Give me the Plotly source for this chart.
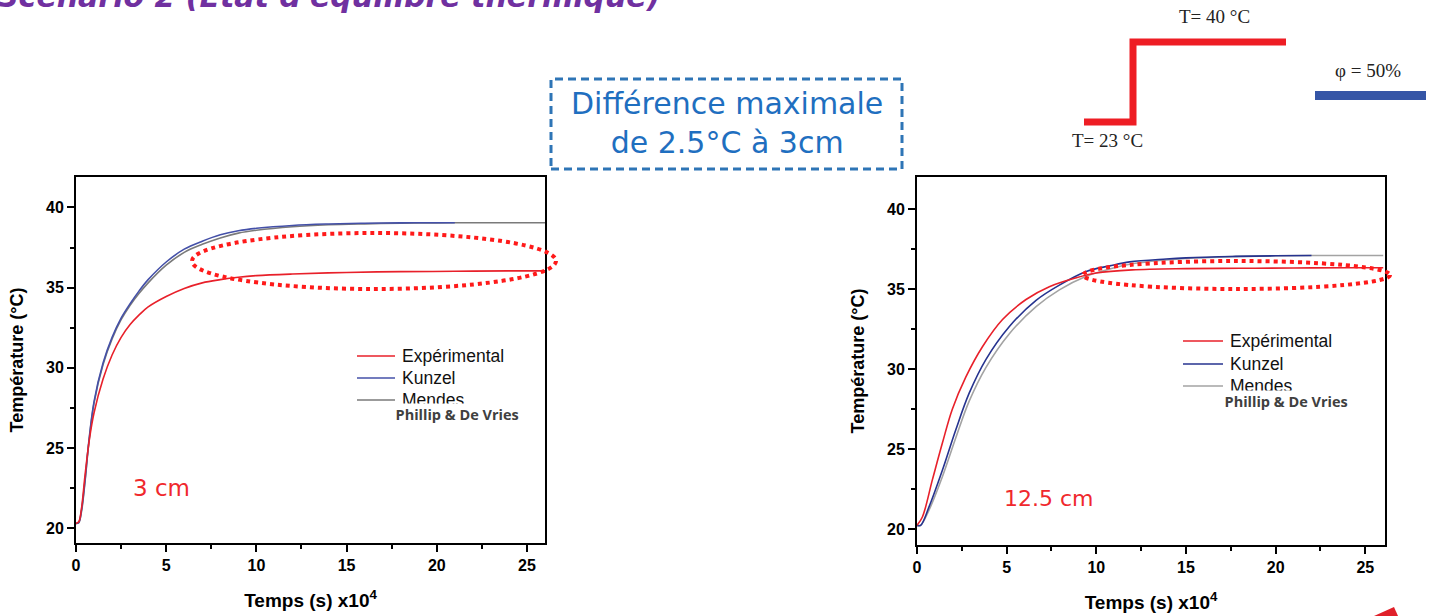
import plotly.graph_objects as go

W, H = 1434, 616

# ---------------- data ----------------
# 3 cm
t_exp_3 = [0, 0.15, 0.3, 0.5, 0.75, 1.0, 1.5, 2.0, 2.5, 3.0, 3.5, 4.0, 5.0, 6.0, 7.0, 8.0, 9.0, 10, 12, 15, 18, 21, 24, 26]
T_exp_3 = [20.3, 20.4, 21.2, 23.3, 25.6, 27.2, 29.3, 30.8, 31.9, 32.7, 33.3, 33.8, 34.45, 34.95, 35.3, 35.5, 35.65, 35.75, 35.85, 35.95, 36.0, 36.02, 36.05, 36.05]
t_kun_3 = [0, 0.15, 0.3, 0.5, 0.7, 1.0, 1.5, 2.0, 2.5, 3.0, 3.5, 4.0, 5.0, 6.0, 7.0, 8.0, 9.0, 10, 12, 14, 16, 18, 20, 21]
T_kun_3 = [20.3, 20.35, 21.1, 23.0, 25.3, 27.9, 30.3, 31.9, 33.1, 34.0, 34.8, 35.5, 36.6, 37.4, 37.9, 38.3, 38.55, 38.7, 38.88, 38.97, 39.02, 39.04, 39.05, 39.05]
t_men_3 = [0, 0.15, 0.3, 0.5, 0.7, 1.0, 1.5, 2.0, 2.5, 3.0, 3.5, 4.0, 5.0, 6.0, 7.0, 8.0, 9.0, 10, 12, 14, 16, 18, 20, 22, 24, 26]
T_men_3 = [20.3, 20.35, 21.0, 22.9, 25.2, 27.8, 30.2, 31.8, 33.0, 33.9, 34.65, 35.3, 36.4, 37.2, 37.7, 38.1, 38.4, 38.58, 38.8, 38.92, 38.98, 39.02, 39.04, 39.05, 39.05, 39.05]

# 12.5 cm
t_exp_12 = [0, 0.3, 0.86, 1.42, 1.97, 2.72, 3.65, 4.77, 6.08, 7.38, 8.87, 10, 12, 15, 18, 21, 24, 26]
T_exp_12 = [20.25, 20.77, 23.1, 25.4, 27.5, 29.5, 31.4, 33.1, 34.35, 35.15, 35.7, 36.0, 36.2, 36.28, 36.3, 36.32, 36.33, 36.33]
t_kun_12 = [0, 0.2, 0.67, 1.42, 2.16, 2.91, 3.84, 5.14, 6.64, 7.94, 9.44, 10.74, 11.86, 13.9, 15, 17.6, 20, 22]
T_kun_12 = [20.25, 20.25, 21.4, 23.7, 26.2, 28.5, 30.6, 32.65, 34.3, 35.25, 36.1, 36.45, 36.7, 36.88, 36.95, 37.04, 37.08, 37.1]
t_men_12 = [0, 0.2, 0.67, 1.42, 2.16, 2.91, 3.84, 5.14, 6.64, 7.94, 9.44, 10.74, 11.86, 13.9, 15, 17.6, 20, 23, 26]
T_men_12 = [20.25, 20.25, 21.2, 23.3, 25.7, 28.0, 30.1, 32.2, 33.9, 34.95, 35.8, 36.25, 36.55, 36.82, 36.92, 37.03, 37.08, 37.1, 37.1]

series_names = ["Expérimental", "Kunzel", "Mendes"]
x_ticks = [0, 5, 10, 15, 20, 25]
y_ticks = [20, 25, 30, 35, 40]
depth_labels = ["3 cm", "12.5 cm"]

RED = "#E8202A"
BLUE_L = "#4450A8"
BLUE_R = "#26338F"
GRAY_L = "#7A7A7A"
GRAY_R = "#A3A3A3"


def px(x):
    return x / W


def py(y):
    return 1 - y / H


fig = go.Figure()

line_w = 1.6
fig.add_trace(go.Scatter(x=t_men_3, y=T_men_3, mode="lines", line=dict(color=GRAY_L, width=line_w, shape="spline"), xaxis="x", yaxis="y", showlegend=False))
fig.add_trace(go.Scatter(x=t_kun_3, y=T_kun_3, mode="lines", line=dict(color=BLUE_L, width=line_w, shape="spline"), xaxis="x", yaxis="y", showlegend=False))
fig.add_trace(go.Scatter(x=t_exp_3, y=T_exp_3, mode="lines", line=dict(color=RED, width=line_w, shape="spline"), xaxis="x", yaxis="y", showlegend=False))

fig.add_trace(go.Scatter(x=t_men_12, y=T_men_12, mode="lines", line=dict(color=GRAY_R, width=line_w, shape="spline"), xaxis="x2", yaxis="y2", showlegend=False))
fig.add_trace(go.Scatter(x=t_kun_12, y=T_kun_12, mode="lines", line=dict(color=BLUE_R, width=line_w, shape="spline"), xaxis="x2", yaxis="y2", showlegend=False))
fig.add_trace(go.Scatter(x=t_exp_12, y=T_exp_12, mode="lines", line=dict(color=RED, width=line_w, shape="spline"), xaxis="x2", yaxis="y2", showlegend=False))

tick_font = dict(family="Liberation Sans, Arial", size=16, color="black", weight="bold")
xtitle_font = dict(family="Liberation Sans, Arial", size=19, color="black", weight="bold")
ytitle_font = dict(family="Liberation Sans, Arial", size=18, color="black", weight="bold")


def xaxis(domain, rng, anchor):
    return dict(domain=domain, range=rng, anchor=anchor, tickmode="array", tickvals=x_ticks,
                ticks="outside", ticklen=7, tickwidth=2, tickcolor="black",
                minor=dict(tick0=0, dtick=2.5, ticks="outside", ticklen=4, tickwidth=2, tickcolor="black"),
                showline=True, linewidth=2, linecolor="black", mirror=True, showgrid=False, zeroline=False,
                tickfont=tick_font, automargin=False,
                title=dict(text="Temps (s) x10<sup>4</sup>", font=xtitle_font, standoff=20))


def yaxis(domain, rng, anchor):
    return dict(domain=domain, range=rng, anchor=anchor, tickmode="array", tickvals=y_ticks,
                ticks="outside", ticklen=7, tickwidth=2, tickcolor="black",
                minor=dict(tick0=20, dtick=2.5, ticks="outside", ticklen=4, tickwidth=2, tickcolor="black"),
                showline=True, linewidth=2, linecolor="black", mirror=True, showgrid=False, zeroline=False,
                tickfont=tick_font, automargin=False,
                title=dict(text="Température (°C)", font=ytitle_font, standoff=18))


shapes = []
annotations = []


def note(x, y, text, font, xanchor="center", yanchor="middle", **kw):
    annotations.append(dict(xref="paper", yref="paper", x=px(x), y=py(y), xanchor=xanchor, yanchor=yanchor,
                            text=text, showarrow=False, font=font, **kw))


# dashed info box
shapes.append(dict(type="rect", xref="paper", yref="paper", x0=px(551), x1=px(902), y0=py(169), y1=py(79),
                   line=dict(color="#2E75B6", width=3, dash="8px,5px"), fillcolor="rgba(0,0,0,0)"))
note(727, 123, "Différence maximale<br>de 2.5°C à 3cm", dict(family="DejaVu Sans", size=30, color="#1F6FC0"), align="center")

# title (partly off the top)
note(662, -3, "Scénario 2 (Etat d'équilibre thermique)",
     dict(family="DejaVu Sans", size=30, color="#7030A0", weight="bold", style="italic"), xanchor="right")

# step diagram
shapes.append(dict(type="path", xref="paper", yref="paper",
                   path=f"M {px(1084)} {py(122)} L {px(1133)} {py(122)} L {px(1133)} {py(42)} L {px(1286)} {py(42)}",
                   line=dict(color="#EE1D24", width=7)))
shapes.append(dict(type="line", xref="paper", yref="paper", x0=px(1315), x1=px(1426), y0=py(95.5), y1=py(95.5),
                   line=dict(color="#3555A6", width=9)))
serif = dict(family="Liberation Serif, Times New Roman", size=19, color="#222222")
note(1214, 16, "T= 40 °C", serif)
note(1107, 140, "T= 23 °C", serif)
note(1368, 70, "φ = 50%", serif)

# dotted ellipses
shapes.append(dict(type="circle", xref="paper", yref="paper", x0=px(192), x1=px(556), y0=py(289), y1=py(233),
                   line=dict(color="#FF1A1A", width=4, dash="dot")))
shapes.append(dict(type="circle", xref="paper", yref="paper", x0=px(1083), x1=px(1390), y0=py(289), y1=py(261),
                   line=dict(color="#FF1A1A", width=4, dash="dot")))

# legends (manual)
leg_font = dict(family="Liberation Sans, Arial", size=17.5, color="#111111")
pdv_font = dict(family="Open Sans, Liberation Sans", size=14.5, color="#404040", weight="bold")
for (lx0, lx1, ys, colors, tx, pdv) in [
    (357, 395, [356, 378, 400], [RED, BLUE_L, GRAY_L], 400, (400, 414)),
    (1183, 1223, [341, 364, 386], [RED, BLUE_R, GRAY_R], 1228, (1229, 401)),
]:
    for name, yy, c in zip(series_names, ys, colors):
        shapes.append(dict(type="line", xref="paper", yref="paper", x0=px(lx0), x1=px(lx1), y0=py(yy), y1=py(yy),
                           line=dict(color=c, width=1.6)))
        note(tx, yy, name, leg_font, xanchor="left")
    note(pdv[0] - 14, pdv[1], "  Phillip & De Vries  ", pdv_font, xanchor="left", bgcolor="white", borderpad=1)

# depth labels
note(161, 488, depth_labels[0], dict(family="DejaVu Sans", size=23, color="#F0282D"))
note(1049, 498, depth_labels[1], dict(family="DejaVu Sans", size=22, color="#F0282D"))

# small red arrow tip at bottom right
shapes.append(dict(type="path", xref="paper", yref="paper",
                   path=f"M {px(1374)} {py(616)} L {px(1394)} {py(607)} L {px(1398)} {py(616)} Z",
                   fillcolor="#E0202A", line=dict(width=0)))

fig.update_layout(
    width=W, height=H, autosize=False, template="none",
    margin=dict(l=0, r=0, t=0, b=0, pad=0),
    paper_bgcolor="white", plot_bgcolor="white",
    xaxis=xaxis([px(76), px(545)], [0, 26.0], "y"),
    yaxis=yaxis([py(543), py(177)], [19.08, 41.9], "x"),
    xaxis2=xaxis([px(917), px(1385)], [0, 26.1], "y2"),
    yaxis2=yaxis([py(545), py(177)], [19.02, 42.0], "x2"),
    shapes=shapes, annotations=annotations, showlegend=False,
)

fig.write_html("out.html", config={"displayModeBar": False},
               post_script="document.body.style.margin='0px';document.body.style.overflow='hidden';")
